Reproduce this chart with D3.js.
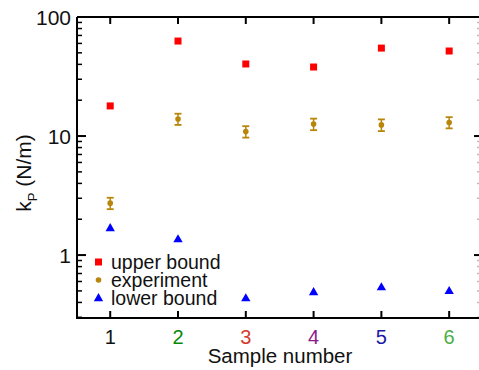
<!DOCTYPE html>
<html><head><meta charset="utf-8">
<script src="https://cdn.jsdelivr.net/npm/d3@7"></script>
<style>body{margin:0;background:#fff}svg{display:block}text{font-family:Arial,"Liberation Sans",sans-serif}</style>
</head><body><svg id="c" width="479" height="370"></svg>
<script>
const samples = [1, 2, 3, 4, 5, 6];
const sampleColors = ["#111111", "#0a8a0a", "#d43a2f", "#8b1a8b", "#1a1aa6", "#4caf46"];
const upperBound = [17.9, 62.8, 40.3, 38.0, 54.8, 51.8];
const experiment = [2.73, 13.9, 10.9, 12.6, 12.4, 13.0];
const experimentErr = [0.3, 1.5, 1.2, 1.4, 1.4, 1.4];
const lowerBound = [1.69, 1.36, 0.435, 0.49, 0.538, 0.50];
const yTickValues = [1, 10, 100];
const legendLabels = ["upper bound", "experiment", "lower bound"];

const svg = d3.select("#c");
const L = 77, R = 479, T = 17, B = 318;
const x = d3.scaleLinear().domain([0.51, 6.44]).range([L, R]);
const y = d3.scaleLog().domain([0.296, 100]).range([B, T]);

const minors = [];
for (const d of [0.1, 1, 10]) for (let k = 2; k <= 9; k++) { const v = d * k; if (v >= 0.296 && v <= 100) minors.push(v); }

// left axis
const gl = svg.append("g");
gl.append("line").attr("x1", L).attr("x2", L).attr("y1", T).attr("y2", B).attr("stroke", "#000").attr("stroke-width", 2);
gl.selectAll(".maj").data(yTickValues).join("line").attr("x1", L).attr("x2", L + 9)
  .attr("y1", d => y(d)).attr("y2", d => y(d)).attr("stroke", "#000").attr("stroke-width", 2);
gl.selectAll(".min").data(minors).join("line").attr("x1", L).attr("x2", L + 5)
  .attr("y1", d => y(d)).attr("y2", d => y(d)).attr("stroke", "#000").attr("stroke-width", 1.5);
gl.selectAll(".lab").data(yTickValues).join("text").attr("x", L - 6).attr("y", d => y(d))
  .attr("dy", "0.36em").attr("text-anchor", "end").attr("font-size", 21).attr("fill", "#111").text(d => d);

// right side ticks
const gr = svg.append("g");
gr.selectAll(".maj").data([1, 10]).join("line").attr("x1", R - 5).attr("x2", R)
  .attr("y1", d => y(d)).attr("y2", d => y(d)).attr("stroke", "#000").attr("stroke-width", 2);
gr.selectAll(".min").data(minors).join("line").attr("x1", R - 2).attr("x2", R)
  .attr("y1", d => y(d)).attr("y2", d => y(d)).attr("stroke", "#bbb").attr("stroke-width", 1.5);

// top & bottom axes
svg.append("line").attr("x1", L).attr("x2", R).attr("y1", T).attr("y2", T).attr("stroke", "#000").attr("stroke-width", 2);
svg.append("line").attr("x1", L - 1).attr("x2", R).attr("y1", B).attr("y2", B).attr("stroke", "#000").attr("stroke-width", 2);
svg.selectAll(".tt").data(samples).join("line").attr("x1", d => x(d)).attr("x2", d => x(d))
  .attr("y1", T).attr("y2", T + 7).attr("stroke", "#000").attr("stroke-width", 2);
svg.selectAll(".bt").data(samples).join("line").attr("x1", d => x(d)).attr("x2", d => x(d))
  .attr("y1", B).attr("y2", B - 7).attr("stroke", "#000").attr("stroke-width", 2);
svg.selectAll(".xl").data(samples).join("text").attr("x", d => x(d)).attr("y", 337)
  .attr("dy", "0.36em").attr("text-anchor", "middle").attr("font-size", 20)
  .attr("fill", (d, i) => sampleColors[i]).text(d => d);

svg.append("text").attr("x", 280).attr("y", 356).attr("dy", "0.36em").attr("text-anchor", "middle")
  .attr("font-size", 20.5).attr("fill", "#111").text("Sample number");

// y label
const yl = svg.append("text").attr("transform", "translate(31,173) rotate(-90)")
  .attr("text-anchor", "middle").attr("font-size", 21).attr("fill", "#111");
yl.append("tspan").text("k");
yl.append("tspan").attr("font-size", 13).attr("dy", 6).text("P");
yl.append("tspan").attr("dy", -6).text(" (N/m)");

// data marks
const gold = "#b8860b";
svg.selectAll(".ub").data(upperBound).join("rect")
  .attr("x", (d, i) => x(samples[i]) - 3.5).attr("y", d => y(d) - 3.5)
  .attr("width", 7).attr("height", 7).attr("fill", "#ff0000");

const eg = svg.selectAll(".ex").data(experiment).join("g");
eg.append("line").attr("x1", (d, i) => x(samples[i])).attr("x2", (d, i) => x(samples[i]))
  .attr("y1", (d, i) => y(d + experimentErr[i])).attr("y2", (d, i) => y(d - experimentErr[i]))
  .attr("stroke", gold).attr("stroke-width", 1.5);
eg.append("line").attr("x1", (d, i) => x(samples[i]) - 3.5).attr("x2", (d, i) => x(samples[i]) + 3.5)
  .attr("y1", (d, i) => y(d + experimentErr[i])).attr("y2", (d, i) => y(d + experimentErr[i]))
  .attr("stroke", gold).attr("stroke-width", 1.8);
eg.append("line").attr("x1", (d, i) => x(samples[i]) - 3.5).attr("x2", (d, i) => x(samples[i]) + 3.5)
  .attr("y1", (d, i) => y(d - experimentErr[i])).attr("y2", (d, i) => y(d - experimentErr[i]))
  .attr("stroke", gold).attr("stroke-width", 1.8);
eg.append("circle").attr("cx", (d, i) => x(samples[i])).attr("cy", d => y(d)).attr("r", 2.8).attr("fill", gold);

const tri = d3.symbol().type(d3.symbolTriangle).size(38);
svg.selectAll(".lb").data(lowerBound).join("path").attr("d", tri)
  .attr("transform", (d, i) => `translate(${x(samples[i])},${y(d) + 0.5})`).attr("fill", "#0000ff");

// legend
const lg = svg.append("g");
const ly = [262, 280, 298];
lg.append("rect").attr("x", 95).attr("y", ly[0] - 3.5).attr("width", 7).attr("height", 7).attr("fill", "#ff0000");
lg.append("circle").attr("cx", 98.5).attr("cy", ly[1]).attr("r", 2.8).attr("fill", gold);
lg.append("path").attr("d", tri).attr("transform", `translate(98.5,${ly[2] + 0.5})`).attr("fill", "#0000ff");
lg.selectAll("text").data(legendLabels).join("text").attr("x", 111).attr("y", (d, i) => ly[i])
  .attr("dy", "0.36em").attr("font-size", 19.5).attr("fill", "#111").text(d => d);
</script></body></html>
